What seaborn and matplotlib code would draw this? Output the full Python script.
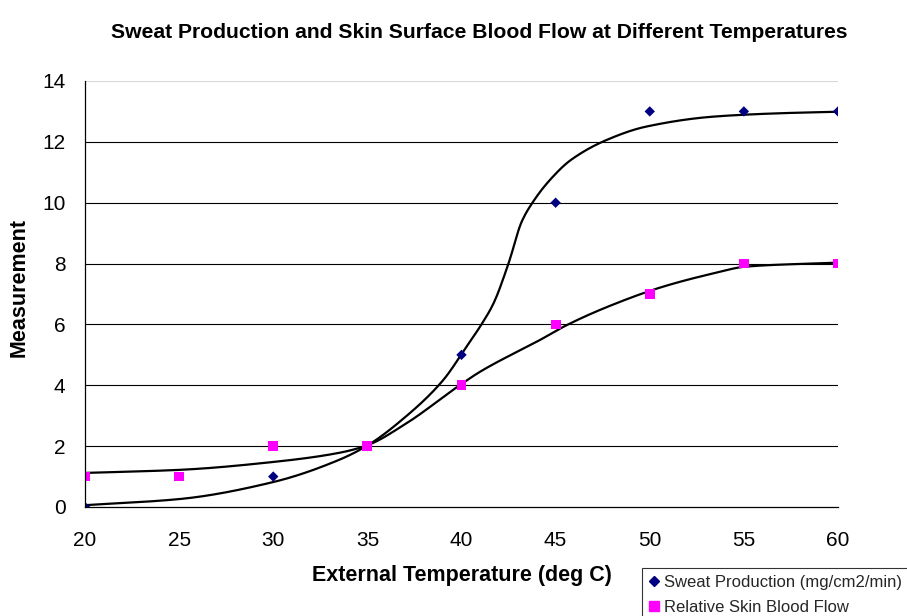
import numpy as np
import pandas as pd
import matplotlib
matplotlib.use("Agg")
import matplotlib.pyplot as plt
import seaborn as sns
from matplotlib.lines import Line2D

# Measured values
temperature = [20, 25, 30, 35, 40, 45, 50, 55, 60]
sweat_production = [0, np.nan, 1, 2, 5, 10, 13, 13, 13]
skin_blood_flow = [1, 1, 2, 2, 4, 6, 7, 8, 8]

# Trend-curve knots (temperature, fitted value)
sweat_fit_temp = [20, 25, 30, 33.5, 35, 37, 39, 40.3, 41.1, 41.7, 42.5,
                  43.2, 43.8, 44.7, 45.8, 47.7, 49.8, 53.4, 56.9, 60]
sweat_fit_val = [0.06, 0.26, 0.82, 1.55, 2.02, 2.95, 4.15, 5.3, 6.04, 6.69, 8.01,
                 9.38, 10.03, 10.75, 11.40, 12.06, 12.5, 12.83, 12.94, 12.99]
blood_fit_temp = [20, 25, 30, 33.5, 35, 37, 39.9, 41, 44.2, 45.6, 48, 50.7, 53.4, 55.1, 60]
blood_fit_val = [1.12, 1.22, 1.48, 1.78, 2.03, 2.72, 4.0, 4.45, 5.5, 5.98, 6.64, 7.24, 7.68, 7.9, 8.03]

y_ticks = [0, 2, 4, 6, 8, 10, 12, 14]
x_ticks = [20, 25, 30, 35, 40, 45, 50, 55, 60]


def pchip(xk, yk, n=500):
    """Monotone cubic (Fritsch-Carlson) curve through the knots."""
    xk = np.asarray(xk, float)
    yk = np.asarray(yk, float)
    h = np.diff(xk)
    d = np.diff(yk) / h
    m = np.zeros_like(xk)
    m[0], m[-1] = d[0], d[-1]
    for i in range(1, len(xk) - 1):
        if d[i - 1] * d[i] <= 0:
            m[i] = 0
        else:
            w1 = 2 * h[i] + h[i - 1]
            w2 = h[i] + 2 * h[i - 1]
            m[i] = (w1 + w2) / (w1 / d[i - 1] + w2 / d[i])
    xs = np.linspace(xk[0], xk[-1], n)
    idx = np.clip(np.searchsorted(xk, xs) - 1, 0, len(xk) - 2)
    t = (xs - xk[idx]) / h[idx]
    h00 = 2 * t**3 - 3 * t**2 + 1
    h10 = t**3 - 2 * t**2 + t
    h01 = -2 * t**3 + 3 * t**2
    h11 = t**3 - t**2
    ys = (h00 * yk[idx] + h10 * h[idx] * m[idx]
          + h01 * yk[idx + 1] + h11 * h[idx] * m[idx + 1])
    return xs, ys


sns.set_theme(style="white")
plt.rcParams["font.family"] = ["Liberation Sans", "DejaVu Sans"]

fig = plt.figure(figsize=(9.07, 6.16), dpi=100)
fig.patch.set_facecolor("white")
ax = fig.add_axes([85 / 907, 1 - 507 / 616, 753 / 907, 426 / 616])
ax.set_facecolor("white")

# gridlines
for yv in y_ticks[1:]:
    ax.axhline(yv, color="#d8d8d8" if yv == 14 else "black", lw=0.8, zorder=1)

sx, sy = pchip(sweat_fit_temp, sweat_fit_val)
bx, by = pchip(blood_fit_temp, blood_fit_val)
curves = pd.DataFrame({"t": np.concatenate([sx, bx]),
                       "v": np.concatenate([sy, by]),
                       "s": ["sweat"] * len(sx) + ["blood"] * len(bx)})
sns.lineplot(data=curves, x="t", y="v", units="s", estimator=None, sort=False,
             color="black", lw=1.6, ax=ax, zorder=3, legend=False)

df = pd.DataFrame({"t": temperature, "sweat": sweat_production, "blood": skin_blood_flow})
sns.scatterplot(data=df, x="t", y="sweat", marker="D", color="#000080", s=28,
                edgecolor="none", ax=ax, zorder=4)
sns.scatterplot(data=df, x="t", y="blood", marker="s", color="#FF00FF", s=50,
                edgecolor="none", ax=ax, zorder=4)

ax.set_xlim(20, 60)
ax.set_ylim(0, 14)
ax.set_xticks(x_ticks)
ax.set_yticks(y_ticks)
ax.set_xticklabels([str(v) for v in x_ticks])
ax.set_yticklabels([str(v) for v in y_ticks])
ax.tick_params(axis="both", direction="out", length=7, width=0.8, color="black",
               labelsize=15, labelcolor="black")
ax.tick_params(axis="x", pad=10)
ax.tick_params(axis="y", pad=7)

for side in ["top", "right"]:
    ax.spines[side].set_visible(False)
for side in ["left", "bottom"]:
    ax.spines[side].set_color("black")
    ax.spines[side].set_linewidth(0.9)
ax.spines["left"].set_zorder(5)
ax.spines["bottom"].set_zorder(5)

ax.set_xlabel("External Temperature (deg C)", fontsize=15.5, fontweight="bold", color="black")
ax.set_ylabel("Measurement", fontsize=15.5, fontweight="bold", color="black")
ax.xaxis.set_label_coords(0.5, (507 - 575) / 426)
ax.xaxis.label.set_va("center")
ax.yaxis.set_label_coords((19 - 85) / 753, 0.515)
ax.yaxis.label.set_va("center")

fig.text(479 / 907, 1 - 32 / 616,
         "Sweat Production and Skin Surface Blood Flow at Different Temperatures",
         ha="center", va="center", fontsize=15.2, fontweight="bold", color="black")

handles = [
    Line2D([], [], marker="D", color="#000080", ls="none", markersize=5),
    Line2D([], [], marker="s", color="#FF00FF", ls="none", markersize=6.5),
]
leg = fig.legend(handles, ["Sweat Production (mg/cm2/min)", "Relative Skin Blood Flow"],
                 loc="upper left", bbox_to_anchor=(642 / 907, 1 - 568 / 616),
                 frameon=True, fancybox=False, fontsize=12, handlelength=0.6,
                 handletextpad=0.35, borderpad=0.4, labelspacing=0.6,
                 borderaxespad=0)
leg.get_frame().set_edgecolor("black")
leg.get_frame().set_linewidth(0.8)

fig.savefig("out.png", dpi=100, facecolor="white")
